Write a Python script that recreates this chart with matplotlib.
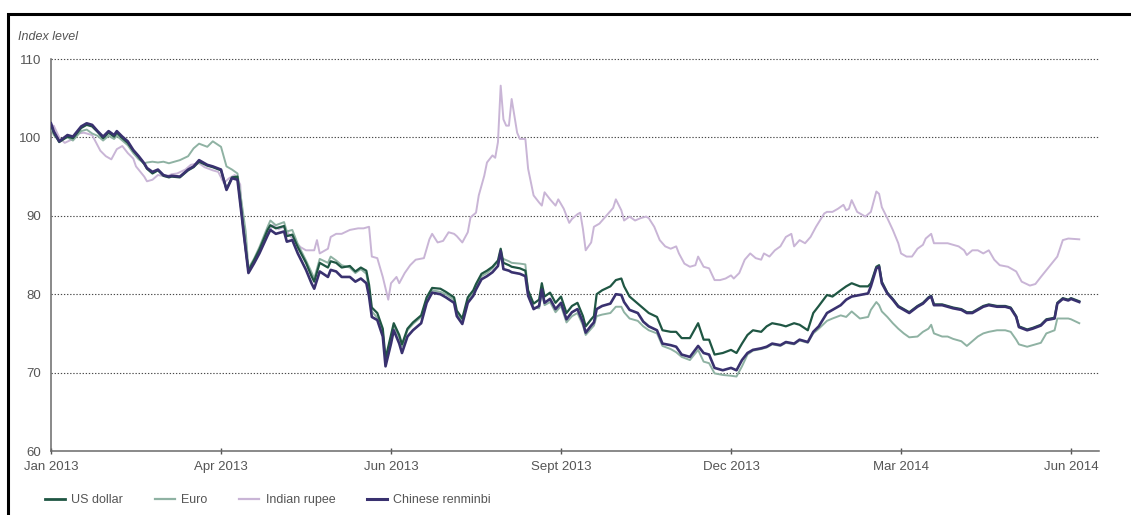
import matplotlib
matplotlib.use("Agg")
import matplotlib.pyplot as plt
from matplotlib.lines import Line2D

# ---------------- data ----------------
tick_days = [0, 62, 124, 186, 248, 310, 372]
tick_labels = ["Jan 2013", "Apr 2013", "Jun 2013", "Sept 2013", "Dec 2013", "Mar 2014", "Jun 2014"]
y_ticks = [60, 70, 80, 90, 100, 110]

days = [
    0, 1, 3, 6, 8, 11, 13, 15, 17, 19,
    21, 23, 24, 26, 28, 30, 32, 34, 35, 37,
    39, 41, 43, 44, 47, 50, 52, 54, 57, 59,
    62, 64, 66, 68, 69, 71, 72, 74, 76, 79,
    80, 82, 85, 86, 88, 90, 93, 95, 96, 98,
    101, 102, 104, 106, 109, 111, 113, 115, 116, 117,
    119, 121, 122, 124, 125, 127, 128, 130, 132, 135,
    137, 139, 142, 144, 147, 148, 150, 152, 154, 155,
    157, 159, 161, 163, 164, 165, 167, 168, 171, 173,
    174, 176, 178, 179, 180, 182, 184, 186, 188, 190,
    192, 194, 195, 197, 198, 199, 201, 204, 206, 208,
    209, 211, 214, 216, 218, 221, 223, 226, 228, 230,
    233, 236, 238, 240, 242, 245, 248, 250, 252, 254,
    256, 259, 261, 263, 266, 268, 271, 273, 276, 278,
    280, 283, 285, 288, 290, 292, 295, 298, 299, 301,
    302, 303, 305, 307, 309, 311, 313, 316, 318, 320,
    321, 322, 325, 327, 329, 332, 334, 336, 338, 340,
    342, 345, 348, 350, 352, 353, 356, 358, 361, 363,
    366, 367, 369, 371, 372, 375,
]

us_dollar = [
    101.6, 100.6, 99.4, 100.1, 99.9, 101.2, 101.6, 101.4, 100.7, 99.9,
    100.6, 100.1, 100.6, 99.9, 99.3, 98.3, 97.5, 96.6, 96.0, 95.4,
    95.8, 95.1, 94.9, 95.0, 94.9, 95.8, 96.2, 96.9, 96.4, 96.2,
    95.8, 93.4, 94.9, 95.0, 92.0, 85.8, 83.0, 84.3, 85.7, 88.2,
    88.8, 88.4, 88.7, 87.4, 87.6, 86.0, 84.0, 82.3, 81.6, 84.0,
    83.4, 84.2, 84.0, 83.4, 83.6, 82.9, 83.4, 83.0, 81.2, 78.3,
    77.6, 75.6, 71.8, 74.8, 76.3, 74.8, 73.6, 75.6, 76.4, 77.3,
    79.6, 80.8, 80.7, 80.3, 79.6, 77.9, 76.9, 79.6, 80.5, 81.3,
    82.6, 83.0, 83.5, 84.3, 85.8, 84.0, 83.7, 83.5, 83.3, 83.0,
    80.5, 78.8, 79.3, 81.4, 79.7, 80.2, 78.9, 79.7, 77.6, 78.5,
    78.9, 77.2, 75.9, 76.8, 77.2, 80.0, 80.5, 81.0, 81.8, 82.0,
    81.0, 79.7, 78.8, 78.2, 77.6, 77.1, 75.4, 75.2, 75.2, 74.4,
    74.4, 76.3, 74.2, 74.2, 72.3, 72.5, 72.9, 72.5, 73.7, 74.8,
    75.4, 75.2, 75.9, 76.3, 76.1, 75.9, 76.3, 76.1, 75.4, 77.6,
    78.5, 79.9, 79.7, 80.5, 81.0, 81.4, 81.0, 81.0, 81.4, 83.5,
    83.7, 81.6, 80.2, 79.4, 78.5, 78.1, 77.7, 78.5, 78.9, 79.6,
    79.8, 78.7, 78.7, 78.5, 78.3, 78.1, 77.7, 77.7, 78.1, 78.5,
    78.7, 78.5, 78.5, 78.3, 77.2, 75.9, 75.5, 75.7, 76.1, 76.8,
    77.0, 78.9, 79.5, 79.3, 79.5, 79.1,
]

euro = [
    101.3, 100.3, 99.6, 100.0, 99.6, 100.8, 101.0, 100.5, 100.2, 99.6,
    100.2, 99.8, 100.2, 99.6, 99.0, 98.0, 97.2, 96.7, 96.8, 96.9,
    96.8, 96.9, 96.7, 96.8, 97.1, 97.6, 98.6, 99.2, 98.8, 99.5,
    98.8, 96.3, 95.9, 95.4, 93.0, 88.0, 83.3, 84.5, 86.0, 88.6,
    89.4, 88.8, 89.2, 88.0, 88.2, 86.4, 84.3, 82.8, 82.0, 84.5,
    84.0, 84.8, 84.3, 83.7, 83.4, 82.7, 83.2, 82.6, 80.5, 77.8,
    77.0, 75.3, 71.5, 74.5, 76.0, 74.5, 73.3, 75.4, 76.2, 77.1,
    79.3, 80.5, 80.3, 80.0, 79.3, 77.5, 76.5, 79.3, 80.2, 81.0,
    82.3, 82.7, 83.3, 84.2, 84.8, 84.5, 84.2, 84.0, 83.9, 83.8,
    80.3, 78.3, 78.2, 80.2, 78.6, 79.0, 77.7, 78.5, 76.4, 77.2,
    77.6, 76.0, 74.8, 75.6, 76.0, 77.2, 77.4, 77.6, 78.4, 78.4,
    77.7, 76.9, 76.6, 75.9, 75.4, 75.0, 73.4, 73.0, 72.6, 72.0,
    71.6, 72.9, 71.4, 71.2, 69.9, 69.7, 69.6, 69.5, 70.8, 72.3,
    72.8, 73.0, 73.2, 73.6, 73.4, 73.8, 73.6, 74.1, 73.8, 75.0,
    75.6, 76.6, 76.9, 77.3, 77.1, 77.8, 76.9, 77.1, 78.0, 79.0,
    78.6, 77.8, 77.1, 76.3, 75.6, 75.0, 74.5, 74.6, 75.2, 75.6,
    76.1, 75.0, 74.6, 74.6, 74.3, 74.0, 73.4, 74.0, 74.6, 75.0,
    75.2, 75.4, 75.4, 75.2, 74.2, 73.6, 73.3, 73.5, 73.8, 75.0,
    75.4, 76.9, 76.9, 76.9, 76.8, 76.3,
]

chinese_renminbi = [
    101.8, 100.8, 99.5, 100.3, 100.1, 101.4, 101.8, 101.6, 100.8, 100.1,
    100.8, 100.3, 100.8, 100.1, 99.5, 98.4, 97.6, 96.7, 96.1, 95.6,
    95.9, 95.2, 95.0, 95.1, 95.0, 95.9, 96.3, 97.1, 96.5, 96.3,
    95.9, 93.3, 94.8, 94.6, 91.6, 85.6, 82.7, 83.9, 85.2, 87.5,
    88.2, 87.7, 88.0, 86.7, 86.9, 85.2, 83.1, 81.4, 80.7, 82.9,
    82.2, 83.1, 82.9, 82.2, 82.2, 81.6, 82.0, 81.4, 79.7, 77.1,
    76.7, 74.6, 70.8, 73.7, 75.4, 73.7, 72.5, 74.6, 75.4, 76.3,
    78.9, 80.2, 80.0, 79.6, 78.9, 77.2, 76.2, 78.9, 79.8, 80.6,
    81.9, 82.3, 82.8, 83.6, 85.5, 83.2, 83.0, 82.8, 82.6, 82.3,
    79.8, 78.1, 78.5, 80.6, 78.9, 79.4, 78.1, 78.9, 76.8, 77.7,
    78.1, 76.4, 75.1, 76.0, 76.4, 78.1, 78.5, 78.8, 80.0, 79.9,
    79.0, 78.0, 77.6, 76.5, 75.9, 75.4, 73.7, 73.5, 73.3, 72.3,
    72.0, 73.4, 72.5, 72.3, 70.6, 70.3, 70.6, 70.3, 71.6, 72.5,
    72.9, 73.1, 73.3, 73.7, 73.5, 73.9, 73.7, 74.2, 73.9, 75.2,
    75.9, 77.6, 78.0, 78.6, 79.3, 79.7, 79.9, 80.1, 81.0, 83.3,
    83.5, 81.4, 80.1, 79.3, 78.4, 78.0, 77.6, 78.4, 78.8, 79.5,
    79.7, 78.6, 78.6, 78.4, 78.2, 78.0, 77.6, 77.6, 78.0, 78.4,
    78.6, 78.4, 78.4, 78.2, 77.1, 75.8, 75.4, 75.6, 76.0, 76.7,
    76.9, 78.8, 79.4, 79.2, 79.4, 79.0,
]

rupee_days = [
    0, 1, 3, 5, 8, 10, 12, 15, 18, 20,
    22, 24, 26, 28, 30, 31, 34, 35, 37, 39,
    42, 44, 46, 49, 51, 54, 56, 59, 61, 63,
    65, 67, 69, 70, 72, 74, 76, 79, 81, 83,
    85, 87, 91, 93, 96, 97, 98, 101, 102, 104,
    106, 109, 112, 114, 116, 117, 119, 121, 123, 124,
    126, 127, 129, 131, 133, 136, 138, 139, 141, 143,
    145, 147, 148, 150, 152, 153, 155, 156, 158, 159,
    161, 162, 163, 164, 165, 166, 167, 168, 170, 171,
    173, 174, 176, 178, 179, 180, 182, 184, 185, 187,
    189, 190, 192, 193, 194, 195, 197, 198, 200, 203,
    205, 206, 208, 209, 211, 213, 215, 217, 218, 220,
    222, 224, 226, 228, 229, 231, 233, 235, 236, 238,
    240, 242, 244, 246, 248, 249, 251, 253, 255, 257,
    259, 260, 262, 264, 266, 268, 270, 271, 273, 275,
    277, 279, 282, 283, 285, 287, 289, 290, 291, 292,
    294, 296, 297, 299, 301, 302, 303, 305, 307, 309,
    310, 312, 314, 316, 318, 319, 321, 322, 324, 327,
    329, 331, 333, 334, 336, 338, 340, 342, 344, 346,
    349, 352, 354, 357, 359, 361, 364, 367, 369, 371,
    375,
]

indian_rupee = [
    100.5, 101.5, 100.0, 99.3, 99.8, 100.5, 100.6, 100.3, 98.3, 97.6,
    97.2, 98.5, 98.9, 98.0, 97.3, 96.3, 95.0, 94.4, 94.6, 95.2,
    95.0, 95.3, 95.4, 95.9, 96.5, 96.7, 96.2, 95.8, 95.6, 94.2,
    94.8, 95.2, 94.0, 88.0, 83.0, 84.0, 85.5, 87.8, 88.8, 88.3,
    88.6, 87.5, 86.0, 85.6, 85.6, 86.9, 85.2, 85.8, 87.3, 87.7,
    87.7, 88.2, 88.4, 88.4, 88.6, 84.8, 84.6, 82.2, 79.3, 81.4,
    82.2, 81.4, 82.7, 83.7, 84.4, 84.6, 87.0, 87.7, 86.6, 86.8,
    87.9, 87.7, 87.4, 86.6, 87.9, 89.8, 90.4, 92.6, 95.1, 96.8,
    97.7, 97.4, 99.4, 106.6, 102.3, 101.5, 101.5, 104.9, 100.6, 99.8,
    99.8, 96.0, 92.6, 91.7, 91.3, 93.0, 92.1, 91.3, 92.1, 90.9,
    89.1, 89.6, 90.2, 90.4, 88.3, 85.6, 86.6, 88.6, 89.0, 90.2,
    91.0, 92.1, 90.7, 89.4, 89.9, 89.4, 89.7, 89.9, 89.7, 88.6,
    86.9, 86.1, 85.8, 86.1, 85.2, 83.9, 83.5, 83.7, 84.8, 83.5,
    83.3, 81.8, 81.8, 82.0, 82.4, 82.0, 82.7, 84.4, 85.2, 84.6,
    84.4, 85.2, 84.8, 85.6, 86.1, 87.3, 87.7, 86.1, 86.9, 86.5,
    87.3, 88.6, 90.3, 90.5, 90.5, 90.9, 91.4, 90.7, 90.9, 92.0,
    90.5, 90.1, 89.9, 90.5, 93.1, 92.8, 91.1, 89.7, 88.2, 86.5,
    85.2, 84.8, 84.8, 85.8, 86.3, 87.1, 87.7, 86.5, 86.5, 86.5,
    86.3, 86.1, 85.6, 85.0, 85.6, 85.6, 85.2, 85.6, 84.4, 83.7,
    83.5, 82.9, 81.6, 81.1, 81.3, 82.2, 83.5, 84.8, 86.9, 87.1,
    87.0,
]

series_names = ["US dollar", "Euro", "Indian rupee", "Chinese renminbi"]

# ---------------- style ----------------
C_USD = "#1f5643"
C_EUR = "#8fb2a3"
C_INR = "#c9b5d6"
C_CNY = "#39316f"
TXT = "#555555"

plt.rcParams["font.family"] = ["Liberation Sans", "DejaVu Sans"]

W, H = 1131, 515
fig = plt.figure(figsize=(W / 100, H / 100), dpi=100)
ax = fig.add_axes([51 / W, (H - 451) / H, (1099 - 51) / W, (451 - 59) / H])

ax.set_xlim(0, 382.2)
ax.set_ylim(60, 110)

# gridlines (dotted) above the baseline
for yv in y_ticks[1:]:
    ax.axhline(yv, color="#4a4a4a", lw=0.8, ls=(0, (1.2, 1.6)), zorder=1, clip_on=False)

ax.plot(rupee_days, indian_rupee, color=C_INR, lw=1.4, zorder=2)
ax.plot(days, euro, color=C_EUR, lw=1.4, zorder=3)
ax.plot(days, us_dollar, color=C_USD, lw=1.6, zorder=4)
ax.plot(days, chinese_renminbi, color=C_CNY, lw=1.9, zorder=5)

for s in ["top", "right"]:
    ax.spines[s].set_visible(False)
for s in ["left", "bottom"]:
    ax.spines[s].set_color("#6a6a6a")
    ax.spines[s].set_linewidth(1.1)

ax.set_yticks(y_ticks)
ax.set_yticklabels([str(v) for v in y_ticks])
ax.set_xticks(tick_days)
ax.set_xticklabels(tick_labels)
ax.tick_params(axis="y", length=0, pad=7, labelsize=9.5, labelcolor=TXT)
ax.tick_params(axis="x", length=4, direction="inout", width=1, color="#555555",
               pad=5, labelsize=9.5, labelcolor=TXT)

fig.text(18 / W, 1 - 37 / H, "Index level", fontsize=9, style="italic",
         color=TXT, va="center", ha="left")

handles = [
    Line2D([], [], color=C_USD, lw=2.0),
    Line2D([], [], color=C_EUR, lw=1.6),
    Line2D([], [], color=C_INR, lw=1.6),
    Line2D([], [], color=C_CNY, lw=2.2),
]
fig.legend(handles, series_names, loc="center left", bbox_to_anchor=(45 / W, 1 - 500 / H),
           ncol=4, frameon=False, fontsize=9, labelcolor=TXT, handlelength=1.6,
           handletextpad=0.5, columnspacing=2.55, borderaxespad=0, borderpad=0)

# outer frame (top and left edges)
fig.add_artist(Line2D([7.5 / W, 7.5 / W, 1.0], [0.0, 1 - 13.5 / H, 1 - 13.5 / H],
                      transform=fig.transFigure, color="black", lw=2.2,
                      solid_capstyle="butt", solid_joinstyle="miter"))

fig.savefig("out.png", dpi=100)
